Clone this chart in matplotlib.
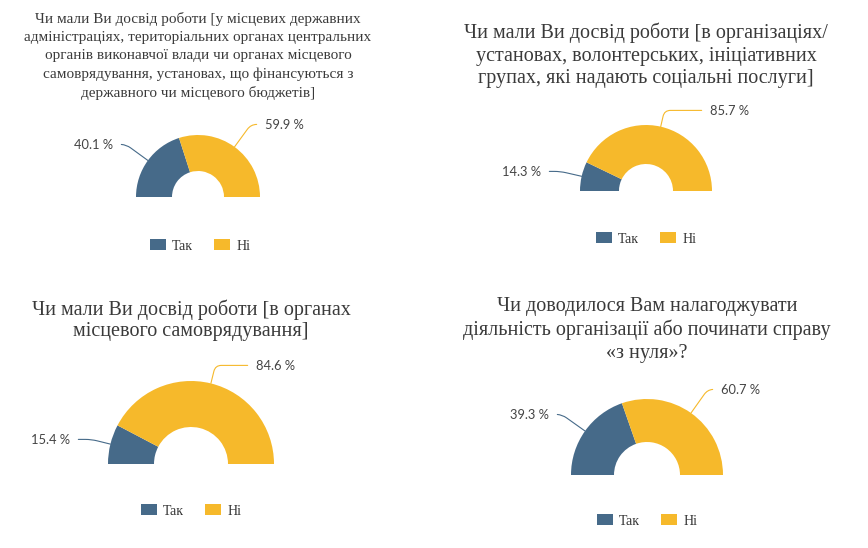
import numpy as np
import matplotlib
matplotlib.use("Agg")
import matplotlib.pyplot as plt

# Daten
kategorien = ["Так", "Ні"]
titel = [
    "Чи мали Ви досвід роботи [у місцевих державних\nадміністраціях, територіальних органах центральних\n"
    "органів виконавчої влади чи органах місцевого\nсамоврядування, установах, що фінансуються з\n"
    "державного чи місцевого бюджетів]",
    "Чи мали Ви досвід роботи [в організаціях/\nустановах, волонтерських, ініціативних\nгрупах, які надають соціальні послуги]",
    "Чи мали Ви досвід роботи [в органах\nмісцевого самоврядування]",
    "Чи доводилося Вам налагоджувати\nдіяльність організації або починати справу\n«з нуля»?",
]
tak = [40.1, 14.3, 15.4, 39.3]
ni = [59.9, 85.7, 84.6, 60.7]

farben = ["#466a89", "#f6b92b"]
W, H = 868, 548

# Layout in Pixeln (x, y von oben)
layout = [
    # zentrum, R aussen, r innen, titel (x, y, grösse, zeilenabstand), label links, label rechts, legende (x, y)
    dict(c=(198, 197), R=62, r=26, t=(198, 56, 11, 1.49), ll=(113, 145), lr=(265, 125), leg=(200, 246)),
    dict(c=(646, 191), R=66, r=27, t=(646, 55.5, 14.5, 1.24), ll=(541, 172), lr=(710, 111), leg=(646, 239)),
    dict(c=(191, 464), R=83, r=37, t=(191, 320, 14.5, 1.16), ll=(70, 440), lr=(256, 366), leg=(191, 511)),
    dict(c=(647, 475), R=76, r=33, t=(647, 330, 14.5, 1.28), ll=(549, 415), lr=(721, 390), leg=(647, 521)),
]

fig = plt.figure(figsize=(W / 100, H / 100), dpi=100)
ax = fig.add_axes([0, 0, 1, 1])

def Y(y):
    return H - y

for i, lay in enumerate(layout):
    cx, cy = lay["c"][0], Y(lay["c"][1])
    R, r = lay["R"], lay["r"]
    werte = [tak[i], ni[i]]
    keile, _ = ax.pie(werte + [sum(werte)], colors=farben + ["white"], startangle=180,
                      counterclock=False, radius=R, center=(cx, cy),
                      wedgeprops=dict(width=R - r, edgecolor="none", linewidth=0))
    keile[2].set_visible(False)

    # Titel
    tx, ty, ts, tls = lay["t"]
    ax.text(tx, Y(ty), titel[i], ha="center", va="center", fontsize=ts,
            family="Liberation Serif", color="#3a3a3a", linespacing=tls)

    # Beschriftungen mit Führungslinien
    for k, keil in enumerate(keile[:2]):
        mitte = np.deg2rad((keil.theta1 + keil.theta2) / 2)
        anker = (cx + R * np.cos(mitte), cy + R * np.sin(mitte))
        if k == 0:
            pos, ha, rel = lay["ll"], "right", (1, 0.55)
        else:
            pos, ha, rel = lay["lr"], "left", (0, 0.55)
        ax.annotate(f"{werte[k]:.1f} %", xy=anker, xytext=(pos[0], Y(pos[1])),
                    ha=ha, va="center", fontsize=9.3, family="Lato", color="#444444",
                    arrowprops=dict(arrowstyle="-", color=farben[k], lw=0.8,
                                    shrinkA=4, shrinkB=0, relpos=rel,
                                    connectionstyle=f"angle,angleA=0,angleB={np.rad2deg(mitte):.1f},rad=6"))

    # Legende
    fig.legend(keile[:2], kategorien, loc="center", bbox_to_anchor=(lay["leg"][0] / W, 1 - lay["leg"][1] / H),
               ncol=2, frameon=False, prop=dict(family="Liberation Serif", size=10),
               handlelength=1.15, handleheight=0.8, handletextpad=0.45, columnspacing=1.5,
               labelcolor="#333333")

ax.set_xlim(0, W)
ax.set_ylim(0, H)
ax.set_aspect("equal")
ax.axis("off")

fig.savefig("out.png", dpi=100, facecolor="white")
